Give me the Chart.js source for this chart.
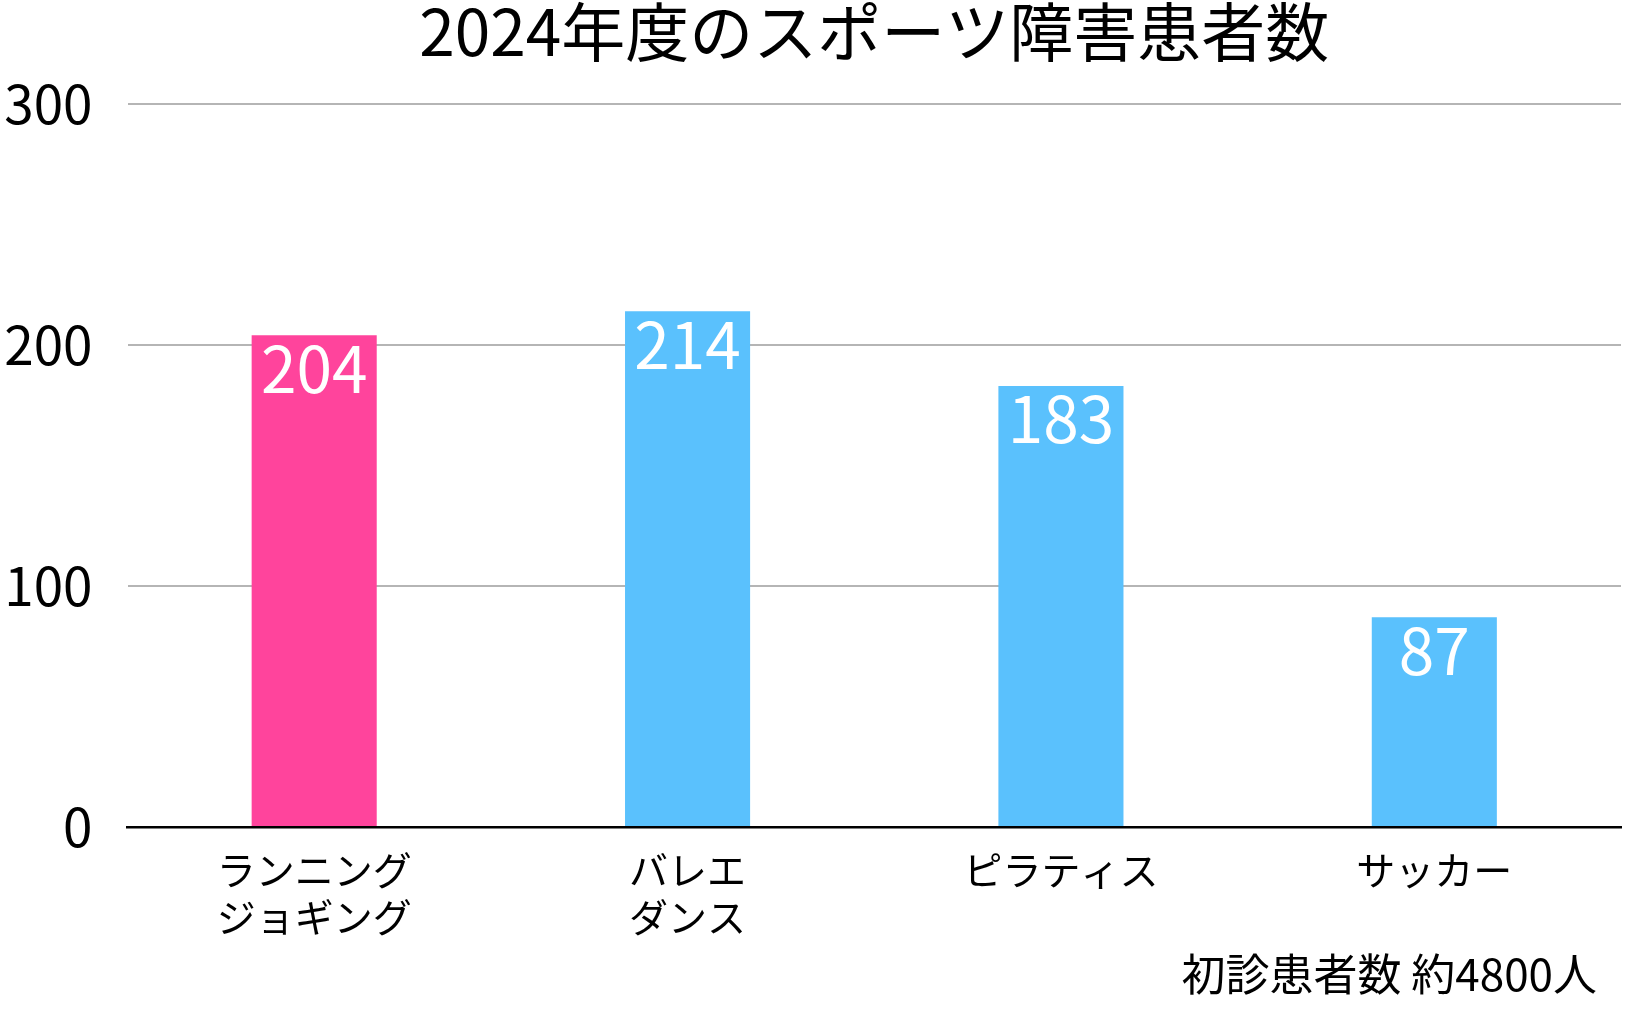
<!DOCTYPE html>
<html lang="ja">
<head>
    <meta charset="UTF-8">
    <title>2024年度のスポーツ障害患者数</title>
    <script src="https://cdn.jsdelivr.net/npm/chart.js"></script>
    <style>
        body {
            margin: 0;
            background: #fff;
        }
        #wrap {
            width: 1626px;
            height: 1010px;
        }
    </style>
</head>
<body>

<div id="wrap">
    <canvas id="injuryChart"></canvas>
</div>

<script>
    // データ
    const categories = [['ランニング', 'ジョギング'], ['バレエ', 'ダンス'], 'ピラティス', 'サッカー'];
    const patients = [204, 214, 183, 87];
    const barColors = ['#ff449c', '#5ac1fd', '#5ac1fd', '#5ac1fd'];
    const yTicks = [0, 100, 200, 300];
    const chartTitle = '2024年度のスポーツ障害患者数';
    const footnote = '初診患者数 約4800人';

    const jpFont = '"Noto Sans CJK JP", "Noto Sans", sans-serif';

    // バーの上部に白い数値を描く
    const barLabels = {
        id: 'barLabels',
        afterDatasetsDraw(chart) {
            const ctx = chart.ctx;
            const meta = chart.getDatasetMeta(0);
            ctx.save();
            ctx.fillStyle = '#fff';
            ctx.font = '64px ' + jpFont;
            ctx.textAlign = 'center';
            ctx.textBaseline = 'middle';
            meta.data.forEach((bar, i) => {
                ctx.fillText(patients[i], bar.x, bar.y + 33);
            });
            ctx.restore();
        }
    };

    // 右下の注記
    const footnotePlugin = {
        id: 'footnote',
        afterDraw(chart) {
            const ctx = chart.ctx;
            ctx.save();
            ctx.fillStyle = '#000';
            ctx.font = '44px ' + jpFont;
            ctx.textAlign = 'right';
            ctx.textBaseline = 'middle';
            ctx.fillText(footnote, chart.chartArea.right - 24, chart.height - 36);
            ctx.restore();
        }
    };

    new Chart(document.getElementById('injuryChart'), {
        type: 'bar',
        data: {
            labels: categories,
            datasets: [{
                data: patients,
                backgroundColor: barColors,
                barPercentage: 0.335,
                categoryPercentage: 1
            }]
        },
        options: {
            responsive: true,
            maintainAspectRatio: false,
            animation: false,
            layout: {
                padding: { left: 3, right: 5, top: 0, bottom: 63 }
            },
            plugins: {
                legend: { display: false },
                tooltip: { enabled: false },
                title: {
                    display: true,
                    text: chartTitle,
                    fullSize: false,
                    color: '#000',
                    font: { family: jpFont, size: 64, weight: 'normal', lineHeight: 1 },
                    padding: { top: 0, bottom: 40 }
                }
            },
            scales: {
                x: {
                    afterFit(axis) {
                        axis.height = 120;
                    },
                    grid: { display: false, drawTicks: false },
                    border: { display: true, color: '#000', width: 2.5 },
                    ticks: {
                        color: '#000',
                        padding: 19,
                        maxRotation: 0,
                        autoSkip: false,
                        font: { family: jpFont, size: 39, lineHeight: 1.22 }
                    }
                },
                y: {
                    min: 0,
                    max: 300,
                    afterBuildTicks(axis) {
                        axis.ticks = yTicks.map(v => ({ value: v }));
                    },
                    afterFit(axis) {
                        axis.width = 124.5;
                    },
                    grid: {
                        drawTicks: false,
                        lineWidth: 2,
                        color: c => c.tick && c.tick.value === 0 ? 'rgba(0,0,0,0)' : '#b5b5b5'
                    },
                    border: { display: false },
                    ticks: {
                        color: '#000',
                        padding: 35,
                        font: { family: jpFont, size: 53 }
                    }
                }
            }
        },
        plugins: [barLabels, footnotePlugin]
    });
</script>

</body>
</html>
